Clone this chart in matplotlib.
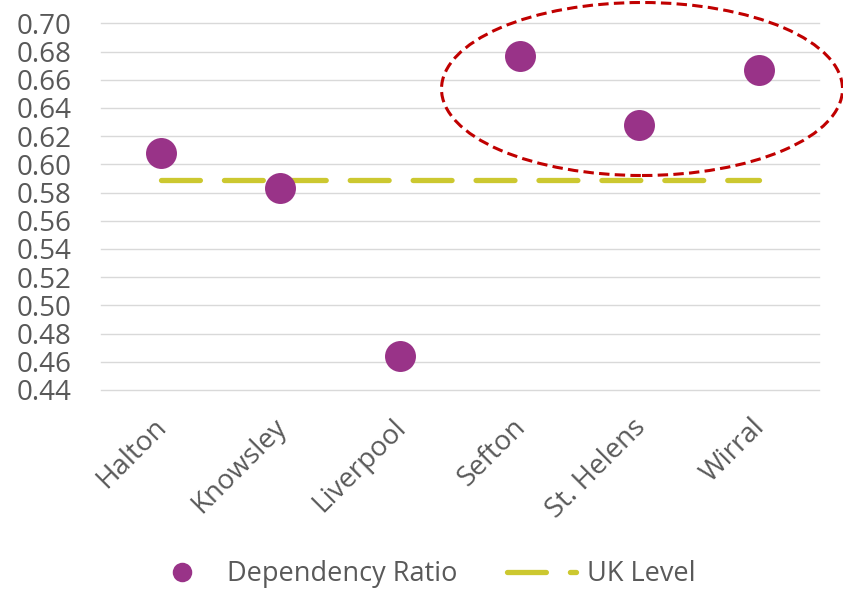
import matplotlib
matplotlib.use("Agg")
import matplotlib.pyplot as plt
from matplotlib.patches import Ellipse
import matplotlib.transforms as mtransforms

plt.rcParams['font.family'] = ['Open Sans', 'DejaVu Sans']
plt.rcParams['lines.scale_dashes'] = False

categories = ["Halton", "Knowsley", "Liverpool", "Sefton", "St. Helens", "Wirral"]
dependency_ratio = [0.608, 0.583, 0.464, 0.677, 0.628, 0.667]
uk_level = [0.589, 0.589, 0.589, 0.589, 0.589, 0.589]
yticks = [0.44, 0.46, 0.48, 0.50, 0.52, 0.54, 0.56, 0.58, 0.60, 0.62, 0.64, 0.66, 0.68, 0.70]

TEXT = '#595959'
PURPLE = '#993388'
OLIVE = '#CCC830'
RED = '#C00000'

fig = plt.figure(figsize=(8.43, 5.89), dpi=100)
ax = fig.add_axes([0.1198, 0.3379, 0.8517, 0.6225])

x = list(range(len(categories)))
ax.plot(x, uk_level, color=OLIVE, lw=3.8, dashes=(28, 17.3),
        dash_capstyle='round', solid_capstyle='round', label='UK Level', zorder=2)
ax.plot(x, dependency_ratio, linestyle='none', marker='o', markersize=22.3,
        color=PURPLE, markeredgewidth=0, label='Dependency Ratio', zorder=3)

ax.set_xlim(-0.5, len(categories) - 0.5)
ax.set_ylim(0.44, 0.70)
ax.set_yticks(yticks)
ax.set_yticklabels([f"{v:.2f}" for v in yticks], fontsize=20, color=TEXT)
ax.set_xticks(x)
ax.set_xticklabels(categories, fontsize=20, color=TEXT, rotation=45,
                   ha='right', va='center', rotation_mode='anchor')
ax.tick_params(axis='y', length=0, pad=21)
ax.tick_params(axis='x', length=0, pad=24)
for s in ax.spines.values():
    s.set_visible(False)
ax.grid(axis='y', color='#D9D9D9', lw=1.0)
ax.set_axisbelow(True)
for gl in ax.get_ygridlines():
    gl.set_clip_on(False)

off = mtransforms.ScaledTranslation(2/100, 0, fig.dpi_scale_trans)
for lab in ax.get_xticklabels():
    lab.set_transform(lab.get_transform() + off)

h, l = ax.get_legend_handles_labels()
leg = fig.legend([h[1], h[0]], [l[1], l[0]], loc='center',
                 bbox_to_anchor=(0.5, 1 - 574/589), ncol=2, frameon=False,
                 fontsize=19.5, handlelength=2.55, handletextpad=0.38,
                 columnspacing=1.85, markerscale=0.63)
for t in leg.get_texts():
    t.set_color(TEXT)

ell = Ellipse((6.42, 5.00), 4.01, 1.73, transform=fig.dpi_scale_trans,
              fill=False, edgecolor=RED, lw=2.2, linestyle=(0, (7.5, 3.8)),
              clip_on=False)
fig.add_artist(ell)

fig.savefig('out.png', dpi=100)
